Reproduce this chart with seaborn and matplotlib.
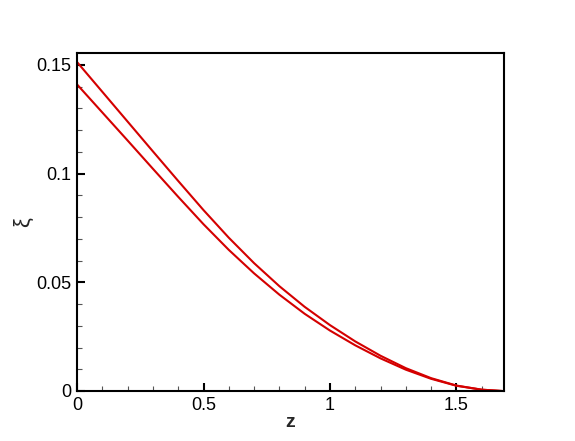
import numpy as np
import pandas as pd
import matplotlib
matplotlib.use("Agg")
import matplotlib.pyplot as plt
import seaborn as sns
from matplotlib.ticker import MultipleLocator, FuncFormatter

# values
z = [0.0, 0.1, 0.2, 0.3, 0.4, 0.5, 0.6, 0.7, 0.8, 0.9,
     1.0, 1.1, 1.2, 1.3, 1.4, 1.5, 1.6, 1.68]
xi_upper = [0.1513, 0.1376, 0.1239, 0.1102, 0.0966, 0.0832, 0.0705, 0.0588, 0.0482,
            0.0387, 0.0303, 0.0228, 0.0162, 0.0105, 0.0059, 0.0025, 0.0006, 0.0]
xi_lower = [0.1410, 0.1281, 0.1152, 0.1022, 0.0893, 0.0767, 0.0649, 0.0541, 0.0443,
            0.0355, 0.0278, 0.0210, 0.0150, 0.0098, 0.0056, 0.0024, 0.0006, 0.0]

df = pd.DataFrame({
    "z": z + z,
    "xi": xi_upper + xi_lower,
    "curve": ["upper"] * len(z) + ["lower"] * len(z),
})

sns.set_style("white")
plt.rcParams["font.family"] = ["Liberation Sans", "DejaVu Sans"]

fig = plt.figure(figsize=(5.75, 4.41), dpi=100)
ax = fig.add_axes([0.134, 0.1134, 0.7425, 0.7666])

sns.lineplot(data=df, x="z", y="xi", units="curve", estimator=None,
             color="#d40000", linewidth=1.5, ax=ax, sort=False)

ax.set_xlim(0, 1.688)
ax.set_ylim(0, 0.1555)

ax.xaxis.set_major_locator(MultipleLocator(0.5))
ax.xaxis.set_minor_locator(MultipleLocator(0.1))
ax.yaxis.set_major_locator(MultipleLocator(0.05))
ax.yaxis.set_minor_locator(MultipleLocator(0.01))
fmt = FuncFormatter(lambda v, p: ("%g" % round(v, 4)))
ax.xaxis.set_major_formatter(fmt)
ax.yaxis.set_major_formatter(fmt)

ax.tick_params(which="major", direction="in", length=6, width=1.5, labelsize=13,
               colors="black", pad=4)
ax.tick_params(which="minor", direction="in", length=3.5, width=0.8, color="#555555")
ax.tick_params(top=False, right=False, which="both")
ax.tick_params(axis="x", which="both", bottom=True)
ax.tick_params(axis="y", which="both", left=True)

for s in ax.spines.values():
    s.set_linewidth(1.5)
    s.set_color("black")

ax.set_xlabel("z", fontsize=14, fontweight="bold", labelpad=0)
ax.set_ylabel("ξ", fontsize=16, labelpad=2)

fig.savefig("out.png", dpi=100)
